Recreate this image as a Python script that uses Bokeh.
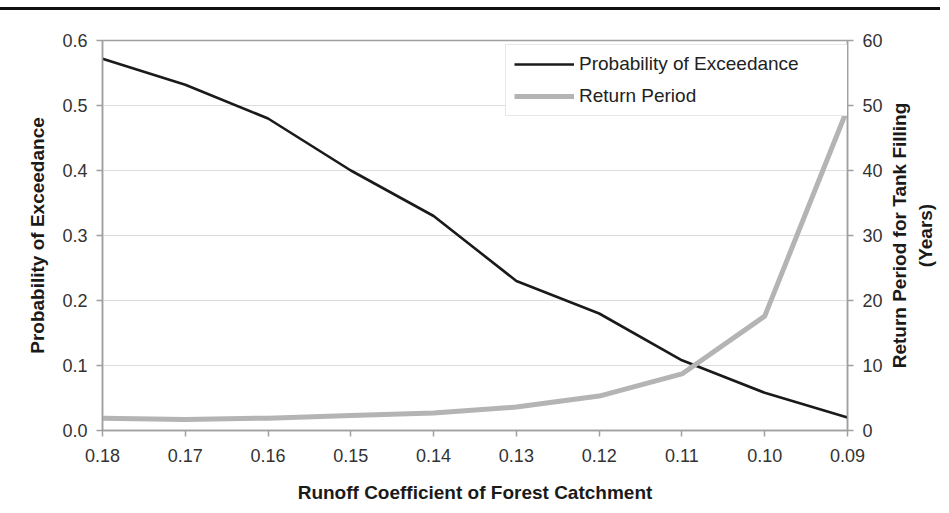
import math
from bokeh.plotting import figure
from bokeh.models import (Range1d, LinearAxis, FixedTicker, Legend, LegendItem,
                          Div, ColumnDataSource, Label)
from bokeh.layouts import column, row
from bokeh.embed import file_html
from bokeh.resources import INLINE

# ---- data ----
runoff_coef = [0.18, 0.17, 0.16, 0.15, 0.14, 0.13, 0.12, 0.11, 0.10, 0.09]
x_tick_labels = ["0.18", "0.17", "0.16", "0.15", "0.14", "0.13", "0.12", "0.11", "0.10", "0.09"]
prob_exceedance = [0.572, 0.532, 0.48, 0.40, 0.33, 0.23, 0.18, 0.108, 0.058, 0.02]
return_period = [1.9, 1.7, 1.9, 2.3, 2.7, 3.6, 5.3, 8.7, 17.6, 49.5]
left_ticks = [0.0, 0.1, 0.2, 0.3, 0.4, 0.5, 0.6]
right_ticks = [0, 10, 20, 30, 40, 50, 60]
right_title = "Return Period for Tank Filling\n(Years)"

FONT = "Liberation Sans"
FIG_H = 495
TOP = 30
FRAME_H = 390

src = ColumnDataSource(dict(x=runoff_coef, p=prob_exceedance, r=return_period))

p = figure(width=888, height=FIG_H, output_backend="svg", toolbar_location=None,
           x_range=Range1d(runoff_coef[0], runoff_coef[-1]),
           y_range=Range1d(left_ticks[0], left_ticks[-1]),
           min_border_left=102, min_border_right=41, min_border_top=TOP,
           min_border_bottom=FIG_H - TOP - FRAME_H)
p.extra_y_ranges = {"rp": Range1d(right_ticks[0], right_ticks[-1])}

p.background_fill_color = "white"
p.border_fill_color = "white"
p.outline_line_color = "#a0a0a0"
p.outline_line_width = 1.5

p.xgrid.visible = False
p.ygrid.grid_line_color = "#dcdcdc"
p.ygrid.grid_line_width = 1
p.ygrid.ticker = FixedTicker(ticks=left_ticks)

r1 = p.line("x", "p", source=src, line_color="#1a1a1a", line_width=2.6)
r2 = p.line("x", "r", source=src, y_range_name="rp", line_color="#b4b4b4", line_width=5)

right_axis = LinearAxis(y_range_name="rp")
p.add_layout(right_axis, "right")

xa = p.xaxis[0]
xa.ticker = FixedTicker(ticks=runoff_coef)
xa.major_label_overrides = {v: s for v, s in zip(runoff_coef, x_tick_labels)}
xa.axis_label = "Runoff Coefficient of Forest Catchment"

ya = p.yaxis[0]
ya.ticker = FixedTicker(ticks=left_ticks)
ya.major_label_overrides = {v: f"{v:.1f}" for v in left_ticks}
ya.axis_label = "Probability of Exceedance"

right_axis.ticker = FixedTicker(ticks=right_ticks)

for ax in (xa, ya, right_axis):
    ax.axis_line_color = "#a0a0a0"
    ax.axis_line_width = 1.5
    ax.major_tick_line_color = "#a0a0a0"
    ax.major_tick_line_width = 1.5
    ax.major_tick_out = 6
    ax.major_tick_in = 0
    ax.minor_tick_line_color = None
    ax.major_label_text_font = FONT
    ax.major_label_text_font_size = "18px"
    ax.major_label_text_color = "#333333"
    ax.axis_label_text_font = FONT
    ax.axis_label_text_font_size = "19px"
    ax.axis_label_text_font_style = "bold"
    ax.axis_label_text_color = "#1a1a1a"

xa.major_label_standoff = 12
xa.axis_label_standoff = 17
ya.major_label_standoff = 9
ya.axis_label_standoff = 11
right_axis.major_label_standoff = 9

legend = Legend(items=[LegendItem(label="Probability of Exceedance", renderers=[r1]),
                       LegendItem(label="Return Period", renderers=[r2])],
                location=(403, 314))
legend.label_text_font = FONT
legend.label_text_font_size = "19px"
legend.label_text_color = "#222222"
legend.glyph_width = 60
legend.glyph_height = 20
legend.label_height = 20
legend.label_standoff = 5
legend.spacing = 10
legend.padding = 8
legend.label_width = 264
legend.border_line_color = "#cfcfcf"
legend.border_line_width = 1
legend.background_fill_color = "white"
legend.background_fill_alpha = 1
p.add_layout(legend)

# side panel holding the right-hand axis title (reads bottom-to-top)
side = figure(width=52, height=FIG_H, output_backend="svg", toolbar_location=None,
              min_border=0, x_range=Range1d(0, 1), y_range=Range1d(0, 1))
side.axis.visible = False
side.grid.visible = False
side.outline_line_color = None
side.background_fill_color = "white"
side.border_fill_color = "white"
rt = Label(x=24, y=FRAME_H / 2, x_units="screen", y_units="screen",
           text=right_title, angle=math.pi / 2, text_align="center", text_baseline="middle",
           text_font=FONT, text_font_size="19px", text_font_style="bold",
           text_color="#1a1a1a", text_line_height=1.25)
side.add_layout(rt)

rule = Div(text="", width=940, height=3, margin=(7, 0, 0, 0),
           styles={"background-color": "#111111"})

layout = column(rule, row(p, side, spacing=0), spacing=0)
open("out.html", "w").write(file_html(layout, INLINE))
